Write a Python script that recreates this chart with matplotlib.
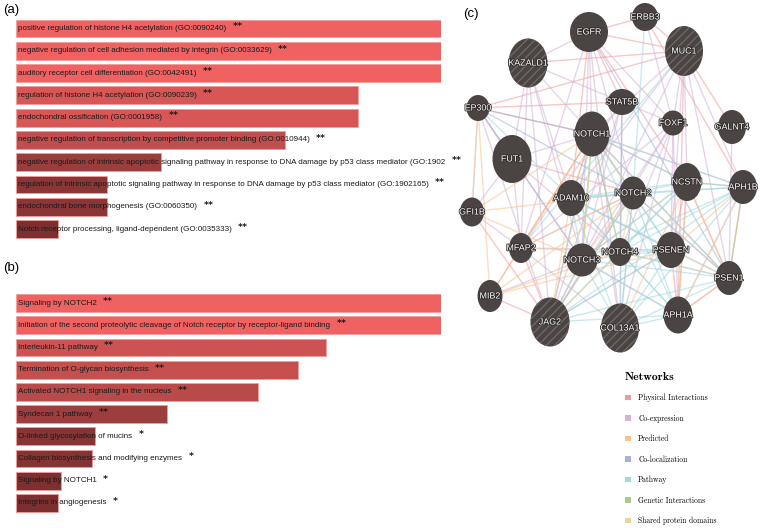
import matplotlib
matplotlib.use("Agg")
import matplotlib.pyplot as plt
import matplotlib.patheffects as pe
from matplotlib import font_manager
from matplotlib.patches import Ellipse, Patch
from matplotlib.colors import LinearSegmentedColormap

# ---- (a) GO terms ----
go_terms = [
    "positive regulation of histone H4 acetylation (GO:0090240)",
    "negative regulation of cell adhesion mediated by integrin (GO:0033629)",
    "auditory receptor cell differentiation (GO:0042491)",
    "regulation of histone H4 acetylation (GO:0090239)",
    "endochondral ossification (GO:0001958)",
    "negative regulation of transcription by competitive promoter binding (GO:0010944)",
    "negative regulation of intrinsic apoptotic signaling pathway in response to DNA damage by p53 class mediator (GO:1902",
    "regulation of intrinsic apoptotic signaling pathway in response to DNA damage by p53 class mediator (GO:1902165)",
    "endochondral bone morphogenesis (GO:0060350)",
    "Notch receptor processing, ligand-dependent (GO:0035333)",
]
go_scores = [1.00, 1.00, 1.00, 0.805, 0.805, 0.633, 0.341, 0.214, 0.214, 0.099]
go_stars = ["**"] * 10

# ---- (b) pathways ----
path_terms = [
    "Signaling by NOTCH2",
    "Initiation of the second proteolytic cleavage of Notch receptor by receptor-ligand binding",
    "Interleukin-11 pathway",
    "Termination of O-glycan biosynthesis",
    "Activated NOTCH1 signaling in the nucleus",
    "Syndecan 1 pathway",
    "O-linked glycosylation of mucins",
    "Collagen biosynthesis and modifying enzymes",
    "Signaling by NOTCH1",
    "Integrins in angiogenesis",
]
path_scores = [1.00, 1.00, 0.729, 0.664, 0.569, 0.355, 0.186, 0.179, 0.106, 0.099]
path_stars = ["**"] * 6 + ["*"] * 4

# ---- (c) network: nodes (layout x, y, radii) ----
node_names = ["ERBB3", "EGFR", "MUC1", "KAZALD1", "EP300", "STAT5B", "FOXF1", "GALNT4",
              "NOTCH1", "FUT1", "ADAM10", "NOTCH2", "NCSTN", "APH1B", "GFI1B", "MFAP2",
              "NOTCH3", "NOTCH4", "PSENEN", "PSEN1", "MIB2", "JAG2", "COL13A1", "APH1A"]
node_x = [645, 589, 684, 528, 478, 622, 673, 732, 592, 512, 571, 633, 687, 743, 472, 521,
          582, 620, 671, 729, 490, 550, 620, 678]
node_y = [17, 32, 51, 63, 108, 102, 123, 127, 134, 159, 198, 193, 182, 187, 212, 248,
          260, 252, 250, 278, 296, 322, 328, 315]
node_rx = [13, 19, 19, 19.5, 11.5, 14.5, 11.5, 14, 17.5, 19.5, 14.5, 13.5, 14.5, 14, 12, 12,
           15.5, 11.5, 14.5, 13.5, 12.5, 19.5, 19, 14.5]
node_ry = [14, 20, 25, 24.5, 13, 13, 12.5, 17, 22.5, 24, 18, 16.5, 19, 17, 14.5, 15,
           16.5, 14, 18, 17, 16, 24.5, 24.5, 18.5]
hatched = ["MUC1", "KAZALD1", "JAG2", "COL13A1"]

net_labels = ["Physical Interactions", "Co-expression", "Predicted", "Co-localization",
              "Pathway", "Genetic Interactions", "Shared protein domains"]
net_colors = ["#f09a9a", "#d3b3d6", "#f8c28c", "#a3b3d9", "#9fd8e0", "#a8cb8a", "#e8d29e"]

edges_physical = [("EGFR", "ERBB3"), ("EGFR", "MUC1"), ("ERBB3", "MUC1"), ("EGFR", "STAT5B"),
                  ("MUC1", "EP300"), ("MUC1", "GALNT4"), ("EP300", "NOTCH1"), ("EP300", "STAT5B"),
                  ("KAZALD1", "MUC1"), ("NOTCH1", "PSEN1"), ("NOTCH1", "NCSTN"), ("NOTCH2", "PSEN1"),
                  ("NCSTN", "PSEN1"), ("NCSTN", "APH1A"), ("NCSTN", "PSENEN"), ("PSENEN", "APH1A"),
                  ("PSEN1", "APH1A"), ("APH1B", "PSEN1"), ("APH1B", "NCSTN"), ("NOTCH1", "JAG2"),
                  ("NOTCH1", "MIB2"), ("NOTCH3", "JAG2"), ("NOTCH2", "JAG2"), ("ADAM10", "NOTCH1"),
                  ("MIB2", "JAG2"), ("GFI1B", "JAG2"), ("EGFR", "ADAM10"), ("MUC1", "APH1A"),
                  ("EGFR", "NCSTN"), ("ERBB3", "APH1B"), ("FUT1", "NOTCH2"), ("MFAP2", "JAG2")]
edges_coexp = [("KAZALD1", "NOTCH1"), ("KAZALD1", "EGFR"), ("KAZALD1", "FUT1"), ("KAZALD1", "STAT5B"),
               ("KAZALD1", "NOTCH3"), ("KAZALD1", "MFAP2"), ("EGFR", "NOTCH1"), ("EGFR", "FOXF1"),
               ("EGFR", "NOTCH2"), ("EGFR", "MFAP2"), ("MUC1", "FOXF1"), ("MUC1", "NOTCH1"),
               ("MUC1", "NCSTN"), ("MUC1", "PSENEN"), ("MUC1", "APH1B"), ("STAT5B", "FOXF1"),
               ("STAT5B", "NOTCH3"), ("FOXF1", "NOTCH3"), ("FOXF1", "COL13A1"), ("FOXF1", "MFAP2"),
               ("FOXF1", "NOTCH4"), ("FOXF1", "PSENEN"), ("FUT1", "NOTCH1"), ("FUT1", "MFAP2"),
               ("FUT1", "GFI1B"), ("EP300", "FUT1"), ("EP300", "GFI1B"), ("EP300", "NOTCH3"),
               ("NOTCH1", "APH1B"), ("NOTCH1", "COL13A1"), ("GFI1B", "MFAP2"), ("MIB2", "NOTCH3"),
               ("MFAP2", "NOTCH2"), ("MFAP2", "COL13A1"), ("MFAP2", "PSENEN"), ("NOTCH3", "APH1A"),
               ("JAG2", "PSENEN"), ("COL13A1", "NOTCH2"), ("ADAM10", "PSENEN"), ("APH1B", "APH1A"),
               ("GALNT4", "PSEN1"), ("STAT5B", "JAG2"), ("EGFR", "COL13A1"), ("KAZALD1", "JAG2"),
               ("FOXF1", "JAG2"), ("STAT5B", "MFAP2"), ("MUC1", "NOTCH3"), ("ERBB3", "FOXF1"),
               ("FOXF1", "APH1A"), ("MUC1", "PSEN1"), ("EP300", "JAG2"), ("FUT1", "NOTCH4"),
               ("KAZALD1", "ADAM10"), ("EGFR", "NOTCH3"), ("STAT5B", "COL13A1"), ("MUC1", "ADAM10")]
edges_predicted = [("MIB2", "NOTCH1"), ("MIB2", "NOTCH2"), ("JAG2", "NOTCH4"), ("JAG2", "NOTCH2"),
                   ("GFI1B", "NOTCH3"), ("GFI1B", "NOTCH1"), ("MFAP2", "NOTCH1"), ("MFAP2", "NOTCH2"),
                   ("JAG2", "ADAM10"), ("COL13A1", "NCSTN"), ("NOTCH3", "NCSTN"), ("NOTCH4", "PSEN1"),
                   ("APH1B", "PSENEN"), ("APH1A", "PSEN1"), ("NCSTN", "APH1A"), ("EP300", "MIB2"),
                   ("MIB2", "NOTCH4"), ("GFI1B", "NOTCH2"), ("MFAP2", "NOTCH4"), ("PSENEN", "PSEN1"),
                   ("NOTCH1", "ADAM10"), ("NCSTN", "PSEN1"), ("MIB2", "PSENEN")]
edges_coloc = [("EP300", "NOTCH2"), ("EP300", "NOTCH3"), ("EP300", "NOTCH1"), ("NOTCH1", "NOTCH2"),
               ("STAT5B", "NOTCH4"), ("EGFR", "PSEN1")]
edges_pathway = [("NOTCH1", "NOTCH2"), ("NOTCH1", "NOTCH3"), ("NOTCH1", "NOTCH4"), ("NOTCH1", "NCSTN"),
                 ("NOTCH1", "PSENEN"), ("NOTCH1", "APH1A"), ("NOTCH1", "APH1B"), ("NOTCH1", "PSEN1"),
                 ("NOTCH1", "JAG2"), ("NOTCH2", "NCSTN"), ("NOTCH2", "PSENEN"), ("NOTCH2", "APH1A"),
                 ("NOTCH2", "APH1B"), ("NOTCH2", "PSEN1"), ("NOTCH2", "ADAM10"), ("NOTCH3", "NCSTN"),
                 ("NOTCH3", "PSENEN"), ("NOTCH3", "APH1A"), ("NOTCH3", "APH1B"), ("NOTCH3", "PSEN1"),
                 ("NOTCH3", "ADAM10"), ("NOTCH4", "NCSTN"), ("NOTCH4", "PSENEN"), ("NOTCH4", "APH1A"),
                 ("NOTCH4", "APH1B"), ("NOTCH4", "PSEN1"), ("NOTCH4", "ADAM10"), ("JAG2", "NCSTN"),
                 ("JAG2", "PSENEN"), ("JAG2", "APH1A"), ("JAG2", "PSEN1"), ("JAG2", "APH1B"),
                 ("COL13A1", "APH1A"), ("COL13A1", "PSEN1"), ("COL13A1", "NOTCH2"), ("COL13A1", "PSENEN"),
                 ("COL13A1", "APH1B"), ("ADAM10", "NCSTN"), ("ADAM10", "APH1A"), ("ADAM10", "APH1B"),
                 ("ADAM10", "PSEN1"), ("NCSTN", "APH1B"), ("EP300", "ADAM10"), ("MUC1", "MFAP2"),
                 ("JAG2", "NOTCH3"), ("COL13A1", "NOTCH3"), ("ERBB3", "NOTCH2"), ("ADAM10", "PSENEN"),
                 ("COL13A1", "NOTCH4"), ("JAG2", "NOTCH2"), ("ADAM10", "COL13A1")]
edges_genetic = [("NOTCH1", "NOTCH3"), ("NOTCH1", "NOTCH4"), ("PSEN1", "APH1B")]
edges_domains = [("NOTCH1", "NOTCH2"), ("NOTCH2", "NOTCH3"), ("NOTCH2", "NOTCH4"),
                 ("NOTCH3", "NOTCH4"), ("EP300", "GFI1B"), ("APH1A", "APH1B"), ("NOTCH1", "NOTCH3")]

names = {f.name for f in font_manager.fontManager.ttflist}
bar_font = "Liberation Sans Narrow" if "Liberation Sans Narrow" in names else "Liberation Sans"

fig = plt.figure(figsize=(7.6, 5.28), dpi=100)
W, H = 760.0, 528.0
bar_cmap = LinearSegmentedColormap.from_list("reds", ["#6e2a2a", "#f06262"])

# fit the bar-label size so the first GO label spans ~207 px, as in the reference
renderer = fig.canvas.get_renderer()
probe = fig.text(0, 0, go_terms[0], fontsize=10, family=bar_font)
bar_fs = 10 * 207 / probe.get_window_extent(renderer).width
probe.remove()


def bar_panel(top_px, bottom_px, terms, scores, stars):
    ax = fig.add_axes([16 / W, 1 - bottom_px / H, 425 / W, (bottom_px - top_px) / H])
    ys = list(range(len(terms)))
    ax.barh(ys, scores, height=0.8, color=bar_cmap(scores), edgecolor="#f29c9a", linewidth=0.6)
    ax.set_xlim(0, max(scores))
    ax.set_ylim(len(terms) - 0.5, -0.5)
    ax.axis("off")
    for i, (t, s) in enumerate(zip(terms, stars)):
        txt = ax.annotate(t, xy=(0, i), xytext=(1.5, 0), textcoords="offset points",
                          va="center", ha="left", fontsize=bar_fs, family=bar_font, color="#1a1a1a")
        ax.annotate(s, xy=(1, 0.5), xycoords=txt, xytext=(4.5, 1.2), textcoords="offset points",
                    va="center", ha="left", fontsize=6.8, color="#1a1a1a", fontweight="bold")
    return ax


bar_panel(17.3, 240.3, go_terms, go_scores, go_stars)
bar_panel(292.0, 514.0, path_terms, path_scores, path_stars)

fig.text(3 / W, 1 - 10 / H, "(a)", fontsize=9.5, family="Liberation Sans", va="center")
fig.text(3 / W, 1 - 268 / H, "(b)", fontsize=9.5, family="Liberation Sans", va="center")
fig.text(463 / W, 1 - 14 / H, "(c)", fontsize=9.5, family="Liberation Sans", va="center")

# ---- network panel ----
axc = fig.add_axes([460 / W, 0, 300 / W, 1])
axc.set_xlim(460, 760)
axc.set_ylim(528, 0)
axc.axis("off")

idx = {n: k for k, n in enumerate(node_names)}
edge_sets = [edges_physical, edges_coexp, edges_predicted, edges_coloc,
             edges_pathway, edges_genetic, edges_domains]
for es, col in zip(edge_sets, net_colors):
    for a, b in es:
        i, j = idx[a], idx[b]
        axc.plot([node_x[i], node_x[j]], [node_y[i], node_y[j]], color=col,
                 lw=1.0, alpha=0.55, solid_capstyle="butt", zorder=1)

plt.rcParams["hatch.linewidth"] = 0.9
for k, n in enumerate(node_names):
    e = Ellipse((node_x[k], node_y[k]), 2 * node_rx[k], 2 * node_ry[k],
                facecolor="#4a4442", edgecolor="#716a68" if n in hatched else "#4a4442",
                hatch="////" if n in hatched else None, linewidth=0.0, zorder=3)
    axc.add_patch(e)
    axc.text(node_x[k], node_y[k], n, ha="center", va="center", fontsize=6.4,
             family="Liberation Sans", color="white", zorder=4,
             path_effects=[pe.withStroke(linewidth=1.2, foreground="#2e2a29")])

handles = [Patch(facecolor=c, edgecolor="none") for c in net_colors]
leg = fig.legend(handles, net_labels, title="Networks", loc="upper left",
                 bbox_to_anchor=(621 / W, 1 - 368 / H), frameon=False,
                 prop={"family": "cmr10", "size": 5.5},
                 title_fontproperties={"family": "cmb10", "size": 8.5},
                 handlelength=0.75, handleheight=0.75, handletextpad=1.0,
                 labelspacing=1.58, borderpad=0, alignment="left")

fig.savefig("out.png", dpi=100)
